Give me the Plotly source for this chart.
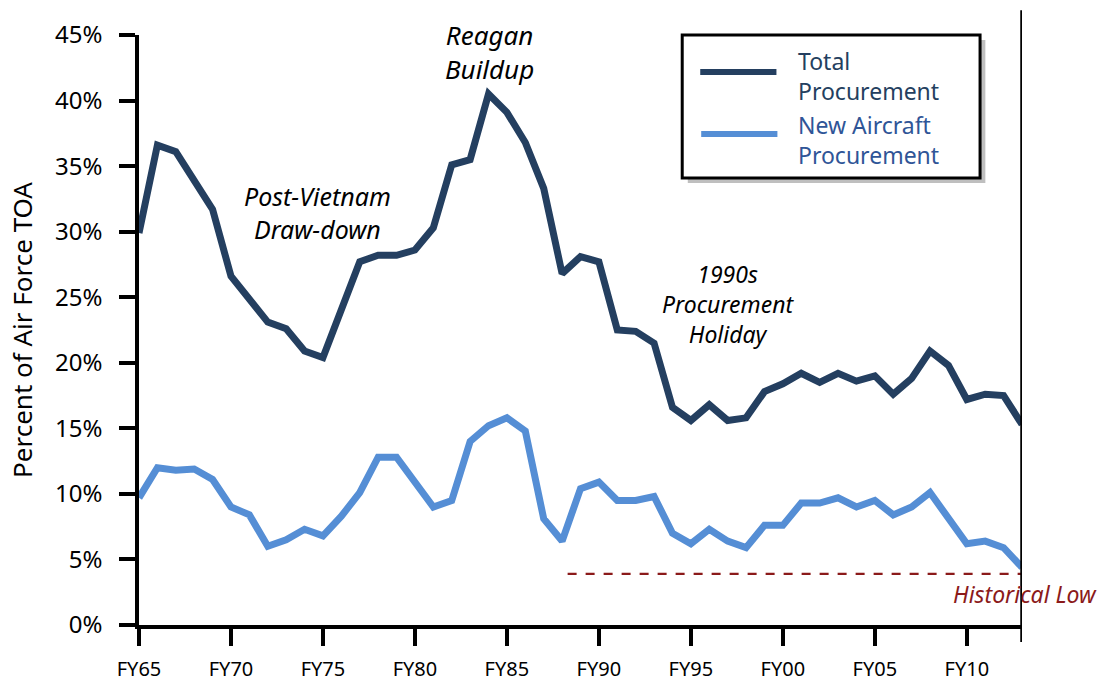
import plotly.graph_objects as go

years = list(range(1965, 2014))
total_procurement = [29.9, 36.6, 36.1, 34.0, 31.7, 26.6, 24.8, 23.1, 22.6, 20.9,
                     20.4, 24.0, 27.7, 28.2, 28.2, 28.6, 30.3, 35.1, 35.5, 40.5,
                     39.1, 36.8, 33.3, 26.8, 28.1, 27.7, 22.5, 22.4, 21.5, 16.6,
                     15.6, 16.8, 15.6, 15.8, 17.8, 18.4, 19.2, 18.5, 19.2, 18.6,
                     19.0, 17.6, 18.8, 20.9, 19.8, 17.2, 17.6, 17.5, 15.3]
new_aircraft = [9.7, 12.0, 11.8, 11.9, 11.1, 9.0, 8.4, 6.0, 6.5, 7.3,
                6.8, 8.3, 10.1, 12.8, 12.8, 10.9, 9.0, 9.5, 14.0, 15.2,
                15.8, 14.8, 8.1, 6.4, 10.4, 10.9, 9.5, 9.5, 9.8, 7.0,
                6.2, 7.3, 6.4, 5.9, 7.6, 7.6, 9.3, 9.3, 9.7, 9.0,
                9.5, 8.4, 9.0, 10.1, 8.1, 6.2, 6.4, 5.9, 4.4]
historical_low = 3.9
low_years = [1988.3, 2013]
tick_years = [1965, 1970, 1975, 1980, 1985, 1990, 1995, 2000, 2005, 2010]
tick_labels = ["FY65", "FY70", "FY75", "FY80", "FY85", "FY90", "FY95", "FY00", "FY05", "FY10"]
y_ticks = [0, 5, 10, 15, 20, 25, 30, 35, 40, 45]
y_labels = [f"{v}%" for v in y_ticks]
legend_names = ["Total<br>Procurement", "New Aircraft<br>Procurement"]

NAVY = "#243F60"
BLUE = "#558ED5"
LEG_BLUE = "#2F5597"
RED = "#8B1A1A"
FONT = "Noto Sans"

fig = go.Figure()
fig.add_trace(go.Scatter(x=years, y=total_procurement, mode="lines",
                         line=dict(color=NAVY, width=7), name="Total Procurement",
                         showlegend=False))
fig.add_trace(go.Scatter(x=years, y=new_aircraft, mode="lines",
                         line=dict(color=BLUE, width=7), name="New Aircraft Procurement",
                         showlegend=False))
fig.add_trace(go.Scatter(x=low_years, y=[historical_low] * 2, mode="lines",
                         line=dict(color=RED, width=2.2, dash="dash"), showlegend=False))

# right vertical boundary line
fig.add_shape(type="line", xref="x", yref="paper", x0=2013, x1=2013, y0=-0.029, y1=1.042,
              line=dict(color="black", width=3.5), layer="above")

# legend box (drawn manually to match long sample lines)
fig.add_shape(type="rect", xref="paper", yref="paper", x0=0.6215, x1=0.9585, y0=0.749, y1=0.9915,
              line=dict(width=0), fillcolor="rgba(0,0,0,0.25)", layer="above")
fig.add_shape(type="rect", xref="paper", yref="paper", x0=0.6152, x1=0.9525, y0=0.7576, y1=1.0,
              line=dict(color="black", width=3), fillcolor="white", layer="above")
fig.add_shape(type="line", xref="paper", yref="paper", x0=0.6356, x1=0.7219, y0=0.9373, y1=0.9373,
              line=dict(color=NAVY, width=6), layer="above")
fig.add_shape(type="line", xref="paper", yref="paper", x0=0.6367, x1=0.723, y0=0.8322, y1=0.8322,
              line=dict(color=BLUE, width=6), layer="above")
for txt, yy, col in [(legend_names[0], 0.9305, NAVY), (legend_names[1], 0.822, LEG_BLUE)]:
    fig.add_annotation(xref="paper", yref="paper", x=0.7442, y=yy, xanchor="left", yanchor="middle",
                       text=txt, showarrow=False, align="left",
                       font=dict(family=FONT, size=23, color=col))

# text annotations
notes = [("Reagan<br>Buildup", 0.397, 0.972, 26),
         ("Post-Vietnam<br>Draw-down", 0.2026, 0.700, 25),
         ("1990s<br>Procurement<br>Holiday", 0.6672, 0.5441, 23)]
for txt, xx, yy, sz in notes:
    fig.add_annotation(xref="paper", yref="paper", x=xx, y=yy, xanchor="center", yanchor="middle",
                       text=f"<i>{txt}</i>", showarrow=False, align="center",
                       font=dict(family=FONT, size=sz, color="black"))
fig.add_annotation(xref="paper", yref="paper", x=1.0034, y=0.0525, xanchor="center", yanchor="middle",
                   text="<i>Historical Low</i>", showarrow=False,
                   font=dict(family=FONT, size=23, color=RED))

fig.update_layout(
    width=1108, height=681,
    margin=dict(l=138.5, r=86, t=35, b=56, autoexpand=False),
    paper_bgcolor="white", plot_bgcolor="white",
    font=dict(family=FONT, color="black"),
    xaxis=dict(range=[1965, 2013], tickvals=tick_years, ticktext=tick_labels, automargin=False,
               showgrid=False, zeroline=False, showline=True, linecolor="black", linewidth=3.5,
               ticks="outside", ticklen=17, tickwidth=3.5, tickcolor="black",
               ticklabelstandoff=6,
               tickfont=dict(family=FONT, size=20)),
    yaxis=dict(range=[0, 45], tickvals=y_ticks, ticktext=y_labels, automargin=True,
               showgrid=False, zeroline=False, showline=True, linecolor="black", linewidth=3.5,
               ticks="outside", ticklen=16, tickwidth=3.5, tickcolor="black",
               ticklabelstandoff=12,
               tickfont=dict(family=FONT, size=24),
               title=dict(text="Percent of Air Force TOA", font=dict(family=FONT, size=26), standoff=16)),
)

fig.write_html("out.html", config={"displayModeBar": False},
               post_script="document.body.style.margin='0';")
